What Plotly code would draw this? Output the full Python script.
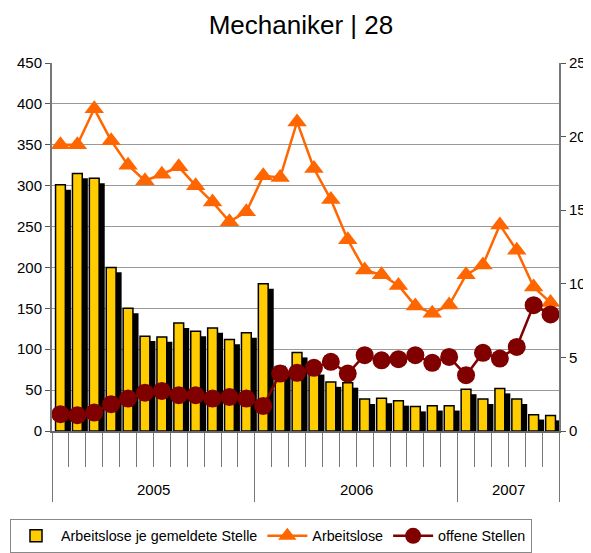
import plotly.graph_objects as go

# Monate Jan 2005 - Jun 2007
jahre = ["2005"] * 12 + ["2006"] * 12 + ["2007"] * 6
monate = [f"{j}-{m:02d}" for j, m in zip(jahre, list(range(1, 13)) * 2 + list(range(1, 7)))]

arbeitslose = [350, 350, 394, 355, 325, 306, 314, 323, 300, 280, 256, 268,
               312, 310, 378, 321, 283, 234, 197, 191, 178, 153, 144, 154,
               191, 203, 252, 221, 176, 157]
offene_stellen = [1.14, 1.07, 1.25, 1.82, 2.2, 2.6, 2.72, 2.43, 2.43, 2.2, 2.31, 2.2,
                  1.7, 3.9, 3.95, 4.29, 4.7, 3.9, 5.15, 4.8, 4.88, 5.15, 4.63, 5.03,
                  3.79, 5.31, 4.92, 5.71, 8.55, 7.92]
je_stelle = [301, 315, 309, 200, 150, 116, 115, 132, 122, 126, 112, 120,
             180, 79, 96, 75, 60, 59, 39, 40, 37, 30, 31, 31,
             51, 39, 52, 39, 20, 19]

x = list(range(len(monate)))
font = "Liberation Sans, Arial, sans-serif"

# die seite hat 8px body-rand, deshalb ist die figur etwas kleiner
W, H = 583, 545

fig = go.Figure()

# schatten hinter den balken
fig.add_trace(go.Bar(x=x, y=je_stelle, base=-6, offset=-0.27 + 0.33, width=0.56,
                     marker=dict(color="black", line=dict(width=0)),
                     showlegend=False, hoverinfo="skip"))
fig.add_trace(go.Bar(x=x, y=je_stelle, offset=-0.29, width=0.58,
                     name="Arbeitslose je gemeldete Stelle",
                     marker=dict(color="#FFCC00", line=dict(color="black", width=1.5))))
fig.add_trace(go.Scatter(x=x, y=arbeitslose, name="Arbeitslose", mode="lines+markers",
                         line=dict(color="#FF6600", width=2.5),
                         marker=dict(symbol="triangle-up", size=17, color="#FF6600")))
fig.add_trace(go.Scatter(x=x, y=offene_stellen, name="offene Stellen", mode="lines+markers",
                         yaxis="y2", line=dict(color="#800000", width=2.5),
                         marker=dict(symbol="circle", size=18, color="#800000")))

# jahresgrenzen und -mitten aus den monaten
grenzen = [-0.5]
for i in range(1, len(jahre)):
    if jahre[i] != jahre[i - 1]:
        grenzen.append(i - 0.5)
grenzen.append(len(jahre) - 0.5)

for a, b in zip(grenzen[:-1], grenzen[1:]):
    fig.add_annotation(x=(a + b) / 2, y=-0.16, xref="x", yref="paper", text=jahre[int(a + 0.5)],
                       showarrow=False, yanchor="middle", font=dict(size=15, color="black", family=font))

fig.update_layout(
    width=W, height=H,
    barmode="overlay",
    paper_bgcolor="white", plot_bgcolor="white",
    margin=dict(l=44, r=32, t=55, b=122, autoexpand=False),
    font=dict(family=font, size=15, color="black"),
    title=dict(text="Mechaniker | 28", x=0.491, xref="paper", xanchor="center",
               y=1 - 17 / H, yanchor="middle", font=dict(size=26, color="black")),
    xaxis=dict(range=[-0.5, len(x) - 0.5], showgrid=False, zeroline=False, automargin=False,
               showline=True, linecolor="#666", linewidth=1.5,
               tickmode="array", tickvals=grenzen, ticks="outside", ticklen=69,
               tickcolor="#777", tickwidth=1, showticklabels=False,
               minor=dict(tickmode="array", tickvals=[i - 0.5 for i in range(len(x) + 1)],
                          ticks="outside", ticklen=34, tickcolor="#777", tickwidth=1)),
    yaxis=dict(range=[0, 450], dtick=50, showgrid=True, gridcolor="#999", gridwidth=1,
               zeroline=False, showline=True, linecolor="#777", linewidth=2, automargin=False,
               ticks="outside", ticklen=5, tickcolor="#555", tickfont=dict(size=15)),
    yaxis2=dict(range=[0, 25], dtick=5, overlaying="y", side="right", showgrid=False,
                zeroline=False, showline=True, linecolor="#777", linewidth=2, automargin=False,
                ticks="outside", ticklen=5, tickcolor="#555", tickfont=dict(size=15)),
    legend=dict(orientation="h", x=-42 / 507, xanchor="left", y=-88 / 368, yanchor="top",
                bordercolor="#888", borderwidth=1, font=dict(size=14.3, color="black"),
                traceorder="normal", itemwidth=40),
)

fig.write_html("out.html")
